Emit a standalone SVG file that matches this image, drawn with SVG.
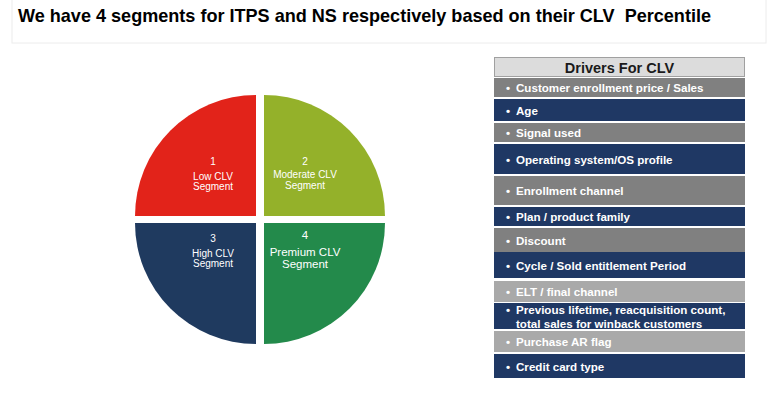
<svg xmlns="http://www.w3.org/2000/svg" width="768" height="393" viewBox="0 0 768 393">
<style>
.t{font-family:"Liberation Sans",Arial,sans-serif;}
.title{font-size:18.5px;font-weight:bold;fill:#000;white-space:pre;}
.seg{font-size:10px;fill:#fff;text-anchor:middle;}
.row{font-size:11.6px;font-weight:bold;fill:#fff;}
.hdr{font-size:14.5px;font-weight:bold;fill:#1a1a1a;text-anchor:middle;}
.g{fill:#808080;}
.lg{fill:#A9A9A9;}
.n{fill:#1F3864;}
</style>
<rect width="768" height="393" fill="#fff"/>
<g id="title">
<rect x="12" y="-2" width="754" height="45" fill="#fff" stroke="#ececec" stroke-width="1"/>
<text class="t title" x="18" y="22" xml:space="preserve" textLength="693" lengthAdjust="spacingAndGlyphs">We have 4 segments for ITPS and NS respectively based on their CLV  Percentile</text>
</g>
<g id="pie">
<g id="seg1">
<path d="M256,216 L135,216 A121,121 0 0 1 256,95 Z" fill="#E2231A"/>
<text class="t seg" x="213" y="165">1</text>
<text class="t seg" x="213" y="180">Low CLV</text>
<text class="t seg" x="213" y="190">Segment</text>
</g>
<g id="seg2">
<path d="M264,216 L264,95 A121,121 0 0 1 385,216 Z" fill="#94B12A"/>
<text class="t seg" x="305" y="165">2</text>
<text class="t seg" x="305" y="178">Moderate CLV</text>
<text class="t seg" x="305" y="189">Segment</text>
</g>
<g id="seg3">
<path d="M256,223 L256,344 A121,121 0 0 1 135,223 Z" fill="#1F3A5F"/>
<text class="t seg" x="213" y="242">3</text>
<text class="t seg" x="213" y="257">High CLV</text>
<text class="t seg" x="213" y="267">Segment</text>
</g>
<g id="seg4">
<path d="M264,223 L385,223 A121,121 0 0 1 264,344 Z" fill="#238A4B"/>
<text class="t seg" x="305" y="238.5" style="font-size:11.5px">4</text>
<text class="t seg" x="305" y="255.5" style="font-size:11.5px">Premium CLV</text>
<text class="t seg" x="305" y="268" style="font-size:11.5px">Segment</text>
</g>
</g>
<g id="drivers">
<g id="header">
<rect x="494.5" y="57.5" width="250" height="19" fill="#DCDCDC" stroke="#A0A0A0" stroke-width="1"/>
<text class="t hdr" x="619.5" y="72.5">Drivers For CLV</text>
</g>
<g id="r1"><rect class="g" x="494" y="78" width="251" height="19"/><text class="t row" x="506" y="92">•</text><text class="t row" x="516" y="92">Customer enrollment price / Sales</text></g>
<g id="r2"><rect class="n" x="494" y="99" width="251" height="22"/><text class="t row" x="506" y="114.5">•</text><text class="t row" x="516" y="114.5">Age</text></g>
<g id="r3"><rect class="g" x="494" y="123" width="251" height="19"/><text class="t row" x="506" y="137">•</text><text class="t row" x="516" y="137">Signal used</text></g>
<g id="r4"><rect class="n" x="494" y="144" width="251" height="30"/><text class="t row" x="506" y="163.5">•</text><text class="t row" x="516" y="163.5">Operating system/OS profile</text></g>
<g id="r5"><rect class="g" x="494" y="176" width="251" height="29"/><text class="t row" x="506" y="195">•</text><text class="t row" x="516" y="195">Enrollment channel</text></g>
<g id="r6"><rect class="n" x="494" y="207" width="251" height="19"/><text class="t row" x="506" y="221">•</text><text class="t row" x="516" y="221">Plan / product family</text></g>
<g id="r7"><rect class="g" x="494" y="228" width="251" height="24"/><text class="t row" x="506" y="244.5">•</text><text class="t row" x="516" y="244.5">Discount</text></g>
<g id="r8"><rect class="n" x="494" y="252" width="251" height="26"/><text class="t row" x="506" y="269.5">•</text><text class="t row" x="516" y="269.5">Cycle / Sold entitlement Period</text></g>
<g id="r9"><rect class="lg" x="494" y="281" width="251" height="21"/><text class="t row" x="506" y="296">•</text><text class="t row" x="516" y="296">ELT / final channel</text></g>
<g id="r10"><rect class="n" x="494" y="303" width="251" height="26"/><text class="t row" x="506" y="313.5">•</text><text class="t row" x="516" y="313.5">Previous lifetime, reacquisition count,</text><text class="t row" x="516" y="328">total sales for winback customers</text></g>
<g id="r11"><rect class="lg" x="494" y="331" width="251" height="21"/><text class="t row" x="506" y="346">•</text><text class="t row" x="516" y="346">Purchase AR flag</text></g>
<g id="r12"><rect class="n" x="494" y="354" width="251" height="24"/><text class="t row" x="506" y="370.5">•</text><text class="t row" x="516" y="370.5">Credit card type</text></g>
</g>
</svg>
